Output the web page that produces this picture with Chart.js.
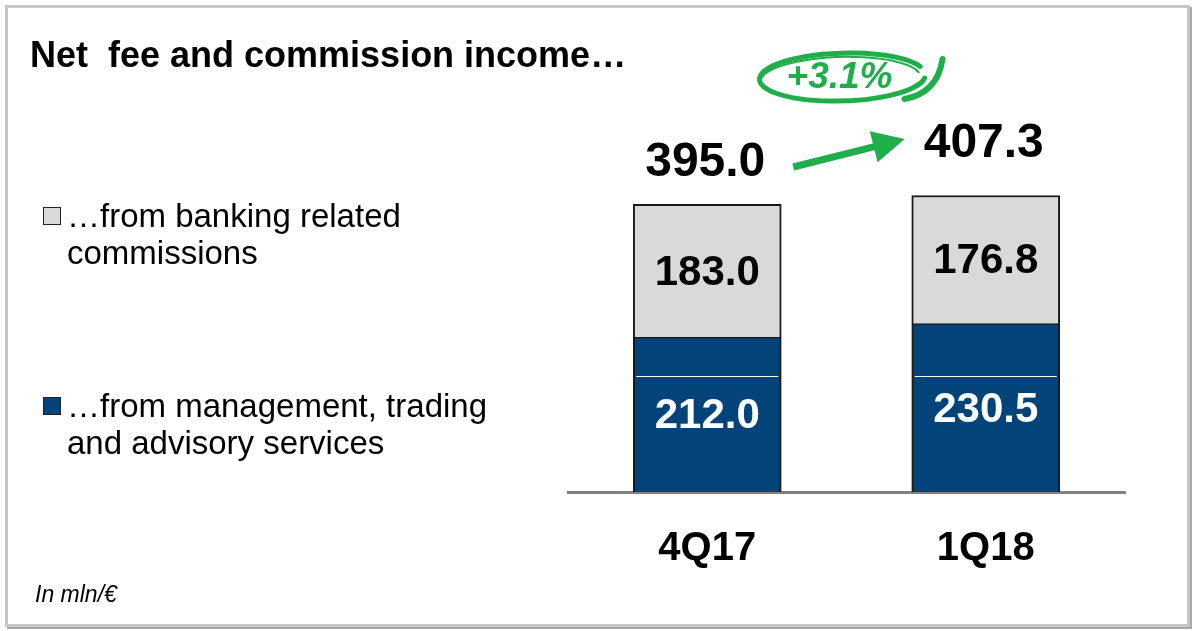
<!DOCTYPE html>
<html>
<head>
<meta charset="utf-8">
<script src="https://cdn.jsdelivr.net/npm/chart.js@4.4.0/dist/chart.umd.min.js"></script>
<style>
  html, body { margin: 0; padding: 0; background: #fff; }
  body { width: 1192px; height: 631px; position: relative; overflow: hidden;
         font-family: "Liberation Sans", Arial, sans-serif; color: #000; }
  #frame { position: absolute; left: 5px; top: 5px; width: 1179px; height: 616px;
           border: 3px solid #c6c6c6; box-shadow: 2px 2px 0 #a8a8a8; }
  #chart { position: absolute; left: 0; top: 0; }
  .title { position: absolute; left: 30px; top: 35px; font-size: 36px; line-height: 40px; font-weight: bold; white-space: pre; }
  .legend-box { position: absolute; left: 43px; width: 18px; height: 18px; box-sizing: border-box; border: 1.5px solid #222; }
  .legend-text { position: absolute; left: 67px; font-size: 33px; line-height: 37px; white-space: nowrap; }
  .note { position: absolute; left: 35px; top: 581px; font-size: 23px; line-height: 26px; font-style: italic; }
</style>
</head>
<body>
<div id="frame"></div>
<canvas id="chart" width="1192" height="631"></canvas>
<div class="title">Net  fee and commission income…</div>
<div class="legend-box" style="top:207px; background:#d9d9d9;"></div>
<div class="legend-text" style="top:197px;">…from banking related<br>commissions</div>
<div class="legend-box" style="top:397px; background:#02447a;"></div>
<div class="legend-text" style="top:387px;">…from management, trading<br>and advisory services</div>
<div class="note">In mln/€</div>

<script>
// Dati
const categories = ['4Q17', '1Q18'];
const managementValues = [212.0, 230.5];
const bankingValues = [183.0, 176.8];
const totals = categories.map((c, i) => managementValues[i] + bankingValues[i]);
const growthPct = (totals[1] / totals[0] - 1) * 100;

// Stile
const FONT = '"Liberation Sans", Arial, sans-serif';
const BLUE = '#02447a';
const GREY = '#d9d9d9';
const GREEN = '#1fae4a';
const HIGHLIGHT_VALUE = 159;   // riga bianca dentro le barre blu
const totalOffsets = [42, 52];

// Etichette dei valori dentro e sopra le barre
const valueLabels = {
    id: 'valueLabels',
    afterDatasetsDraw(chart) {
        const ctx = chart.ctx;
        const y = chart.scales.y;
        ctx.save();

        // riga bianca sulle barre blu
        chart.getDatasetMeta(0).data.forEach(bar => {
            const p = bar.getProps(['x', 'width'], true);
            const py = Math.round(y.getPixelForValue(HIGHLIGHT_VALUE)) + 0.5;
            ctx.strokeStyle = '#ffffff';
            ctx.lineWidth = 1;
            ctx.beginPath();
            ctx.moveTo(p.x - p.width / 2 + 3, py);
            ctx.lineTo(p.x + p.width / 2 - 3, py);
            ctx.stroke();
        });

        ctx.textAlign = 'center';
        ctx.textBaseline = 'middle';
        ctx.font = 'bold 42px ' + FONT;
        chart.data.datasets.forEach((ds, di) => {
            chart.getDatasetMeta(di).data.forEach((bar, i) => {
                const p = bar.getProps(['x', 'y', 'base'], true);
                ctx.fillStyle = ds.labelColor;
                ctx.fillText(ds.data[i].toFixed(1), p.x, (p.y + p.base) / 2 + 2);
            });
        });

        // totali sopra
        ctx.fillStyle = '#000';
        ctx.font = 'bold 48px ' + FONT;
        chart.getDatasetMeta(1).data.forEach((bar, i) => {
            const p = bar.getProps(['x', 'y'], true);
            ctx.fillText(totals[i].toFixed(1), p.x - 2, p.y - totalOffsets[i]);
        });
        ctx.restore();
    }
};

// Freccia e ovale verde con la crescita
const growthMark = {
    id: 'growthMark',
    afterDraw(chart) {
        const ctx = chart.ctx;
        const bars = chart.getDatasetMeta(1).data;
        const xa = bars[0].x, xb = bars[1].x;
        const top = chart.chartArea.top;
        ctx.save();
        ctx.strokeStyle = GREEN;
        ctx.fillStyle = GREEN;

        // freccia
        const sx = xa + 86, sy = top + 39;
        const tx = xb - 81, ty = top + 11;
        const len = Math.hypot(tx - sx, ty - sy);
        const ux = (tx - sx) / len, uy = (ty - sy) / len;
        const bx = tx - ux * 32, by = ty - uy * 32;
        ctx.lineWidth = 7;
        ctx.beginPath();
        ctx.moveTo(sx, sy);
        ctx.lineTo(bx + ux * 4, by + uy * 4);
        ctx.stroke();
        ctx.beginPath();
        ctx.moveTo(tx, ty);
        ctx.lineTo(bx - uy * 16, by + ux * 16);
        ctx.lineTo(bx + uy * 16, by - ux * 16);
        ctx.closePath();
        ctx.fill();

        // ovale
        const cx = (xa + xb) / 2 - 4, cy = top - 51;
        ctx.lineCap = 'round';
        ctx.lineWidth = 5;
        ctx.beginPath();
        ctx.ellipse(cx, cy, 83, 24, -0.03, 0.15, Math.PI * 2 - 0.35);
        ctx.stroke();
        ctx.lineWidth = 2;
        ctx.beginPath();
        ctx.ellipse(cx - 2, cy + 2, 80, 22, -0.03, 0.3, Math.PI * 2 - 0.2);
        ctx.stroke();
        // coda
        ctx.lineWidth = 6;
        ctx.beginPath();
        ctx.moveTo(cx + 62, cy + 22);
        ctx.quadraticCurveTo(cx + 95, cy + 16, cx + 100, cy - 18);
        ctx.stroke();

        ctx.font = 'italic bold 37px ' + FONT;
        ctx.textAlign = 'center';
        ctx.textBaseline = 'middle';
        ctx.fillText('+' + growthPct.toFixed(1) + '%', cx - 3, cy + 1);
        ctx.restore();
    }
};

new Chart(document.getElementById('chart'), {
    type: 'bar',
    data: {
        labels: categories,
        datasets: [{
            label: '…from management, trading and advisory services',
            data: managementValues,
            backgroundColor: BLUE,
            borderColor: '#1a1a1a',
            borderWidth: { top: 1, right: 2, bottom: 0, left: 2 },
            borderSkipped: false,
            labelColor: '#ffffff',
            barThickness: 148
        }, {
            label: '…from banking related commissions',
            data: bankingValues,
            backgroundColor: GREY,
            borderColor: '#1a1a1a',
            borderWidth: { top: 2, right: 2, bottom: 1, left: 2 },
            borderSkipped: false,
            labelColor: '#000000',
            barThickness: 148
        }]
    },
    options: {
        responsive: false,
        animation: false,
        events: [],
        layout: { padding: { left: 568, right: 67, top: 128, bottom: 25 } },
        plugins: {
            legend: { display: false },
            tooltip: { enabled: false }
        },
        scales: {
            x: {
                stacked: true,
                grid: { display: false, drawTicks: false },
                border: { display: true, color: '#808080', width: 3 },
                ticks: { color: '#000', padding: 33, font: { family: FONT, size: 40, weight: 'bold' } }
            },
            y: {
                stacked: true,
                display: false,
                min: 0,
                max: 500
            }
        }
    },
    plugins: [valueLabels, growthMark]
});
</script>
</body>
</html>
